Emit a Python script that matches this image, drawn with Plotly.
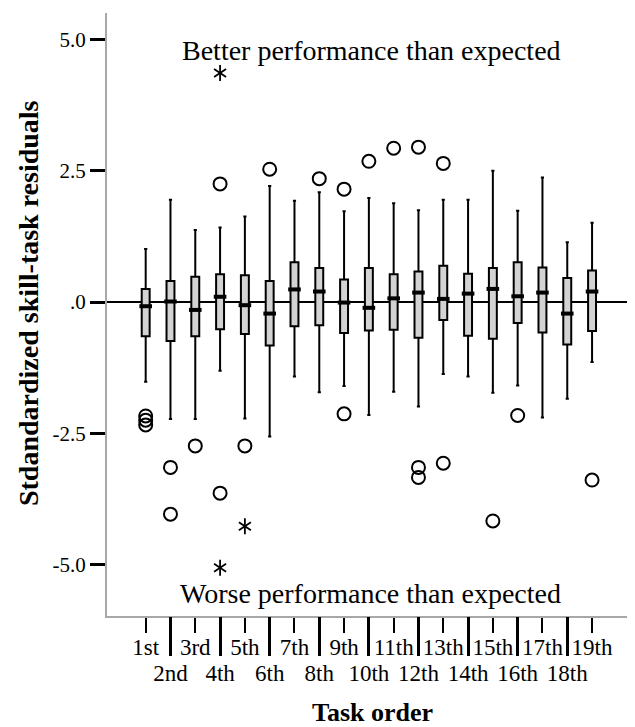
import plotly.graph_objects as go

categories = ["1st", "2nd", "3rd", "4th", "5th", "6th", "7th", "8th", "9th", "10th",
              "11th", "12th", "13th", "14th", "15th", "16th", "17th", "18th", "19th"]

q1 = [-0.65, -0.74, -0.65, -0.52, -0.61, -0.83, -0.46, -0.44, -0.59, -0.54,
      -0.53, -0.68, -0.34, -0.64, -0.70, -0.40, -0.58, -0.81, -0.55]
median = [-0.08, 0.01, -0.15, 0.10, -0.06, -0.22, 0.24, 0.20, -0.01, -0.11,
          0.07, 0.18, 0.06, 0.16, 0.25, 0.11, 0.18, -0.22, 0.20]
q3 = [0.25, 0.40, 0.48, 0.53, 0.51, 0.40, 0.76, 0.65, 0.43, 0.65,
      0.53, 0.58, 0.69, 0.54, 0.65, 0.76, 0.66, 0.46, 0.60]
lower_whisker = [-1.52, -2.23, -2.23, -1.31, -2.22, -2.56, -1.42, -1.72, -1.60, -2.15,
                 -1.71, -1.99, -1.37, -1.42, -1.73, -1.59, -2.20, -1.84, -1.14]
upper_whisker = [1.01, 1.95, 1.37, 1.42, 1.63, 2.21, 1.93, 2.09, 1.73, 1.98,
                 1.88, 1.75, 1.95, 1.95, 2.50, 1.74, 2.37, 1.14, 1.51]

# outliers (task index 0-based, value)
circle_task = [0, 0, 0, 1, 1, 2, 3, 3, 4, 5, 7, 8, 8, 9, 10, 11, 11, 11, 12, 12, 14, 15, 18]
circle_val = [-2.17, -2.25, -2.34, -3.15, -4.04, -2.74, 2.25, -3.64, -2.74, 2.53,
              2.35, 2.15, -2.13, 2.68, 2.93, 2.95, -3.15, -3.34, 2.64, -3.07, -4.17, -2.16, -3.39]
star_task = [3, 3, 4]
star_val = [4.36, -5.06, -4.27]

y_tickvals = [-5.0, -2.5, 0.0, 2.5, 5.0]
y_ticktext = ["-5.0", "-2.5", ".0", "2.5", "5.0"]

FONT = "Liberation Serif"
pos = list(range(len(categories)))
odd_pos = pos[0::2]
even_pos = pos[1::2]

fig = go.Figure()

fig.add_trace(go.Box(
    x=pos, q1=q1, median=median, q3=q3,
    lowerfence=lower_whisker, upperfence=upper_whisker,
    width=0.32, whiskerwidth=0.4,
    fillcolor="#d3d3d3",
    line=dict(color="black", width=2),
    boxpoints=False, showlegend=False, hoverinfo="skip",
))

fig.add_trace(go.Scatter(
    x=pos, y=median, mode="markers",
    marker=dict(symbol="line-ew-open", size=9, color="black",
                line=dict(color="black", width=4)),
    showlegend=False, hoverinfo="skip",
))

fig.add_trace(go.Scatter(
    x=circle_task, y=circle_val, mode="markers",
    marker=dict(symbol="circle-open", size=13, color="black", line=dict(color="black", width=2)),
    showlegend=False, hoverinfo="skip",
))

# extreme values drawn as six-armed asterisks (two overlaid Y symbols)
for sym in ["y-up-open", "y-down-open"]:
    fig.add_trace(go.Scatter(
        x=star_task, y=star_val, mode="markers",
        marker=dict(symbol=sym, size=10, color="black", line=dict(color="black", width=1.8)),
        showlegend=False, hoverinfo="skip",
    ))

xrange = [-1.56, 19.53]

fig.update_layout(
    width=627, height=719,
    margin=dict(l=99, r=5, t=5, b=111),
    paper_bgcolor="white", plot_bgcolor="white",
    font=dict(family=FONT, color="black"),
    xaxis=dict(
        range=xrange, tickmode="array", tickvals=odd_pos,
        ticktext=[categories[i] for i in odd_pos],
        ticks="outside", ticklen=15, tickwidth=2, tickcolor="black",
        tickfont=dict(family=FONT, size=23, color="black"),
        ticklabelstandoff=-6,
        showline=True, linecolor="#a8a8a8", linewidth=2,
        showgrid=False, zeroline=False, automargin=False,
    ),
    xaxis2=dict(
        range=xrange, overlaying="x", anchor="y", side="bottom",
        tickmode="array", tickvals=even_pos,
        ticktext=[categories[i] for i in even_pos],
        ticks="outside", ticklen=39, tickwidth=2.5, tickcolor="black",
        tickfont=dict(family=FONT, size=23, color="black"),
        ticklabelstandoff=-3,
        showline=False, showgrid=False, zeroline=False, automargin=False,
    ),
    yaxis=dict(
        range=[-5.98, 5.505], tickmode="array", tickvals=y_tickvals, ticktext=y_ticktext,
        ticks="outside", ticklen=15, tickwidth=2.5, tickcolor="black",
        tickfont=dict(family=FONT, size=21, color="black"),
        showline=True, linecolor="#a8a8a8", linewidth=2,
        showgrid=False, zeroline=True, zerolinecolor="black", zerolinewidth=2,
        automargin=False,
    ),
    annotations=[
        dict(text="Better performance than expected", xref="paper", yref="paper",
             x=0.506, y=0.9386, xanchor="center", yanchor="middle", showarrow=False,
             font=dict(family=FONT, size=28, color="black")),
        dict(text="Worse performance than expected", xref="paper", yref="paper",
             x=0.504, y=0.0365, xanchor="center", yanchor="middle", showarrow=False,
             font=dict(family=FONT, size=28, color="black")),
        dict(text="<b>Stdandardized skill-task residuals</b>", xref="paper", yref="paper",
             x=-0.151, y=0.519, xanchor="center", yanchor="middle", textangle=-90,
             showarrow=False, font=dict(family=FONT, size=28, color="black")),
        dict(text="<b>Task order</b>", xref="paper", yref="paper",
             x=0.507, y=-0.16, xanchor="center", yanchor="middle", showarrow=False,
             font=dict(family=FONT, size=26, color="black")),
    ],
)

# attach an invisible trace to xaxis2 so it is rendered
fig.add_trace(go.Scatter(x=[None], y=[None], xaxis="x2", showlegend=False, hoverinfo="skip"))

fig.write_html("out.html")
